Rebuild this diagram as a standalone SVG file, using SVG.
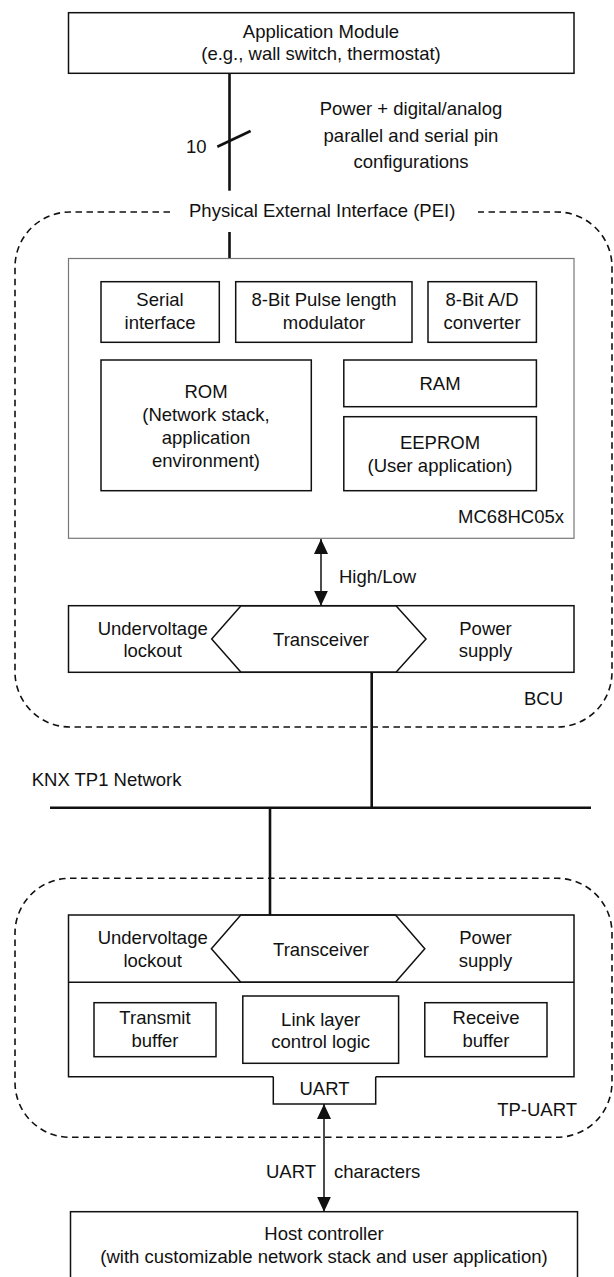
<svg xmlns="http://www.w3.org/2000/svg" width="614" height="1277" viewBox="0 0 614 1277">
<style>
text{font-family:"Liberation Sans",Arial,sans-serif;font-size:18.5px;fill:#111}
.c{text-anchor:middle}
.e{text-anchor:end}
.box{fill:#fff;stroke:#111;stroke-width:1.5}
.gbox{fill:#fff;stroke:#777;stroke-width:1.2}
.ln{fill:none;stroke:#111;stroke-width:1.5}
.dash{fill:none;stroke:#111;stroke-width:1.6;stroke-dasharray:6.5 4.5}
.wire{fill:none;stroke:#111;stroke-width:2.6}
</style>
<defs>
<marker id="ah" viewBox="0 0 15 14" refX="15" refY="7" markerWidth="15" markerHeight="14" markerUnits="userSpaceOnUse" orient="auto-start-reverse">
<path d="M0,0 L15,7 L0,14 Z" fill="#111"/>
</marker>
</defs>

<g id="bcu-boundary">
<path class="dash" d="M170,212 H70 A55,55 0 0 0 15,267 V672 A55,55 0 0 0 70,727 H557 A55,55 0 0 0 612,672 V267 A55,55 0 0 0 557,212 H478"/>
<text x="189" y="217">Physical External Interface (PEI)</text>
<text class="e" x="563" y="705">BCU</text>
</g>

<g id="tpuart-boundary">
<rect class="dash" x="15" y="878.3" width="597" height="259" rx="55" ry="55"/>
<text class="e" x="577" y="1116">TP-UART</text>
</g>

<g id="connectors">
<line class="wire" x1="229.5" y1="73.3" x2="229.5" y2="190.7"/>
<line class="wire" x1="229.5" y1="232" x2="229.5" y2="259"/>
<line class="wire" stroke-width="2.2" x1="217.3" y1="146.7" x2="250.6" y2="131"/>
<text x="186" y="153">10</text>
<text class="c" x="411" y="115">Power + digital/analog</text>
<text class="c" x="411" y="142">parallel and serial pin</text>
<text class="c" x="411" y="168">configurations</text>
<line class="ln" x1="321" y1="539" x2="321" y2="605.7" marker-start="url(#ah)" marker-end="url(#ah)"/>
<text x="339" y="583">High/Low</text>
<line class="wire" x1="371.7" y1="672.3" x2="371.7" y2="807.7"/>
<line class="wire" stroke-width="3" x1="50" y1="807.7" x2="591" y2="807.7"/>
<text x="31.7" y="786">KNX TP1 Network</text>
<line class="wire" x1="270" y1="807.7" x2="270" y2="915"/>
<line class="ln" x1="324" y1="1104" x2="324" y2="1211.7" marker-start="url(#ah)" marker-end="url(#ah)"/>
<text class="e" x="316" y="1177.5">UART</text>
<text x="334" y="1177.5">characters</text>
</g>

<g id="app-module">
<rect class="box" x="68.5" y="12.7" width="505.5" height="60.6"/>
<text class="c" x="321" y="38">Application Module</text>
<text class="c" x="321" y="59.5">(e.g., wall switch, thermostat)</text>
</g>

<g id="mc68hc05x">
<rect class="gbox" x="68.5" y="258.5" width="505.5" height="279.8"/>
<text class="e" x="564" y="523">MC68HC05x</text>
</g>

<g id="serial-interface">
<rect class="box" x="101" y="281.7" width="118.3" height="60.6"/>
<text class="c" x="160" y="306">Serial</text>
<text class="c" x="160" y="329">interface</text>
</g>

<g id="pulse-length-modulator">
<rect class="box" x="235.7" y="281.7" width="176.3" height="60.6"/>
<text class="c" x="324" y="306">8-Bit Pulse length</text>
<text class="c" x="324" y="329">modulator</text>
</g>

<g id="ad-converter">
<rect class="box" x="428" y="281.7" width="108.4" height="60.6"/>
<text class="c" x="482" y="306">8-Bit A/D</text>
<text class="c" x="482" y="329">converter</text>
</g>

<g id="rom">
<rect class="box" x="101" y="360" width="210.3" height="130.7"/>
<text class="c" x="206" y="398">ROM</text>
<text class="c" x="206" y="421">(Network stack,</text>
<text class="c" x="206" y="444">application</text>
<text class="c" x="206" y="467">environment)</text>
</g>

<g id="ram">
<rect class="box" x="343.8" y="360" width="192.6" height="46.7"/>
<text class="c" x="440" y="390">RAM</text>
</g>

<g id="eeprom">
<rect class="box" x="343.8" y="416.7" width="192.6" height="74"/>
<text class="c" x="440" y="449">EEPROM</text>
<text class="c" x="440" y="472">(User application)</text>
</g>

<g id="bcu-transceiver">
<rect class="box" x="68.5" y="605.7" width="505.5" height="66.6"/>
<polygon class="ln" points="241,605.7 396,605.7 426,639 396,672.3 241,672.3 211.7,639"/>
<text class="c" x="152.7" y="635">Undervoltage</text>
<text class="c" x="152.7" y="656.5">lockout</text>
<text class="c" x="321" y="645.5">Transceiver</text>
<text class="c" x="485.5" y="635">Power</text>
<text class="c" x="485.5" y="656.5">supply</text>
</g>

<g id="tpuart-chip">
<path class="box" d="M273.3,1076.7 H68.5 V915 H574 V1076.7 H375.7"/>
<line class="ln" x1="68.5" y1="982.3" x2="574" y2="982.3"/>
<polygon class="ln" points="240.8,915 395.5,915 424.8,948.7 395.5,982.3 240.8,982.3 211.4,948.7"/>
<text class="c" x="152.7" y="944.2">Undervoltage</text>
<text class="c" x="152.7" y="966.5">lockout</text>
<text class="c" x="321" y="955.5">Transceiver</text>
<text class="c" x="485.5" y="944.2">Power</text>
<text class="c" x="485.5" y="966.5">supply</text>
</g>

<g id="transmit-buffer">
<rect class="box" x="94" y="1002.7" width="122" height="54"/>
<text class="c" x="155" y="1023.5">Transmit</text>
<text class="c" x="155" y="1047">buffer</text>
</g>

<g id="link-layer">
<rect class="box" x="242.8" y="996" width="155.8" height="67.3"/>
<text class="c" x="320.7" y="1025.5">Link layer</text>
<text class="c" x="320.7" y="1047.5">control logic</text>
</g>

<g id="receive-buffer">
<rect class="box" x="424.8" y="1002.7" width="122.2" height="54"/>
<text class="c" x="486" y="1023.5">Receive</text>
<text class="c" x="486" y="1047">buffer</text>
</g>

<g id="uart">
<path class="ln" d="M273.3,1076.7 V1104 H375.7 V1076.7"/>
<text class="c" x="324.5" y="1094.5">UART</text>
</g>

<g id="host-controller">
<rect class="box" x="70.5" y="1211.7" width="507" height="80"/>
<text class="c" x="324" y="1240">Host controller</text>
<text class="c" x="324" y="1263">(with customizable network stack and user application)</text>
</g>
</svg>
